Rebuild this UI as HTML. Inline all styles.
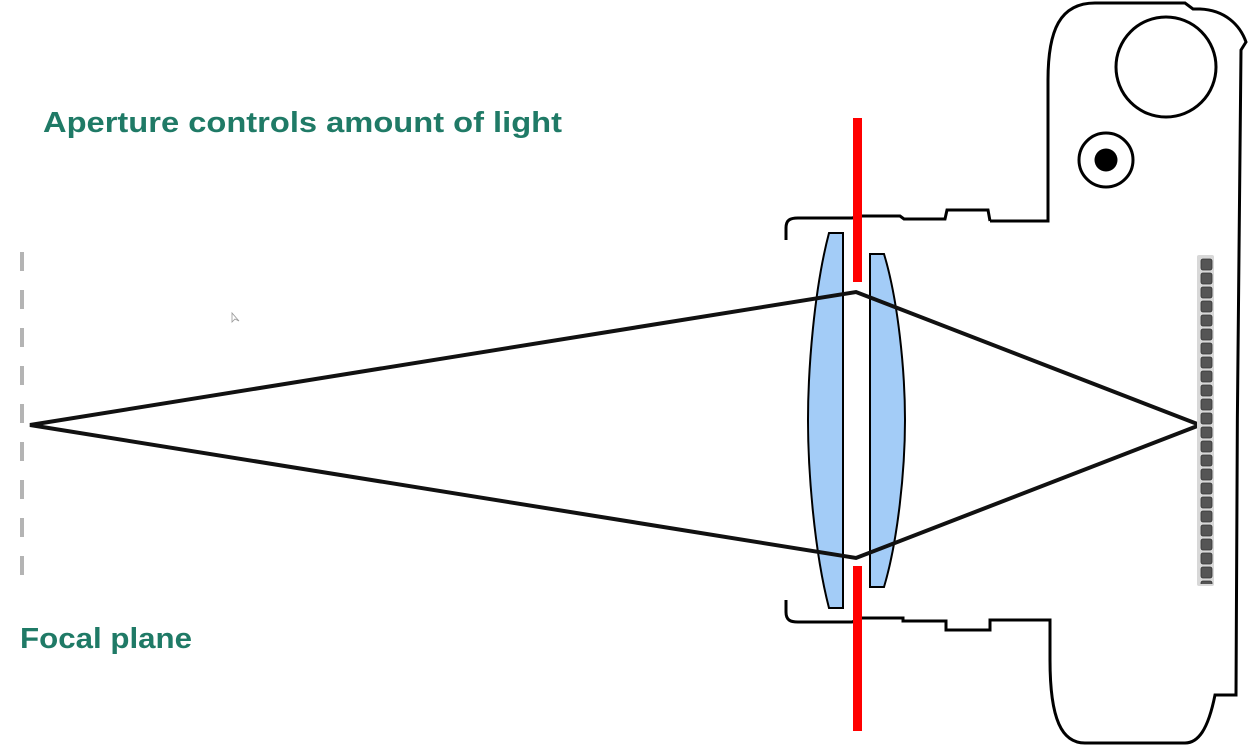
<!DOCTYPE html>
<html><head><meta charset="utf-8"><style>
html,body{margin:0;padding:0;background:#fff;width:1252px;height:748px;overflow:hidden}
svg{display:block}
</style></head><body>
<svg width="1252" height="748" viewBox="0 0 1252 748" xmlns="http://www.w3.org/2000/svg">
<defs>
<pattern id="px" x="1200" y="258" width="14" height="14" patternUnits="userSpaceOnUse">
<rect x="1" y="1" width="11" height="11" rx="2" fill="#555" stroke="#333" stroke-width="0.8"/>
</pattern>
</defs>
<rect width="1252" height="748" fill="#fff"/>
<line x1="22" y1="252" x2="22" y2="585" stroke="#b4b4b4" stroke-width="4" stroke-dasharray="19 19"/>
<path d="M990,221 L1048,221 L1048,80 C1048,30 1060,3 1095,3 L1185,3 L1193,9 L1200,9 C1225,10 1240,25 1246,42 L1241,50 C1238,200 1237,500 1236,695 L1215,695 C1208,730 1198,743 1185,743 L1085,743 C1062,743 1050,720 1050,660 L1050,620 L990,620 L990,630 L946,630 L946,621 L903,621 L903,618 L860,618"
 fill="none" stroke="#000" stroke-width="3"/>
<circle cx="1166" cy="67" r="50" fill="none" stroke="#000" stroke-width="3"/>
<circle cx="1106" cy="160" r="27" fill="none" stroke="#000" stroke-width="3"/>
<circle cx="1106" cy="160" r="11.5" fill="#000"/>
<path d="M786,240 L786,228 C786,220 790,218 798,218 L852,218 L862,216 L900,216 L904,219 L945,219 L947,210 L988,210 L990,221" fill="none" stroke="#000" stroke-width="3"/>
<path d="M786,600 L786,612 C786,620 790,622 798,622 L852,622 L862,618" fill="none" stroke="#000" stroke-width="3"/>
<path d="M829,233 L843,233 L843,608 L829,608 C814,550 808,470 808,420 C808,370 814,290 829,233 Z" fill="#a3ccf7" stroke="#000" stroke-width="2"/>
<path d="M870,254 L884,254 C898,300 905,370 905,420 C905,470 898,540 884,587 L870,587 Z" fill="#a3ccf7" stroke="#000" stroke-width="2"/>
<rect x="853" y="118" width="9" height="164" fill="#ff0000"/>
<rect x="853" y="566" width="9" height="165" fill="#ff0000"/>
<path d="M30,425 L856,292 L1200,425 L856,558 Z" fill="none" stroke="#111" stroke-width="4" stroke-linejoin="miter"/>
<rect x="1197" y="255" width="17" height="331" rx="2" fill="#d8d8d8"/>
<rect x="1200" y="258" width="13" height="326" fill="url(#px)"/>
<path d="M232,313 L232,322 L235,319 L239,321 Z" fill="#fff" stroke="#999" stroke-width="0.8"/>
<text x="43" y="132" font-family="Liberation Sans, sans-serif" font-weight="bold" font-size="29" fill="#1f7a66" textLength="519" lengthAdjust="spacingAndGlyphs">Aperture controls amount of light</text>
<text x="20" y="648" font-family="Liberation Sans, sans-serif" font-weight="bold" font-size="29" fill="#1f7a66" textLength="172" lengthAdjust="spacingAndGlyphs">Focal plane</text>
</svg>
</body></html>
